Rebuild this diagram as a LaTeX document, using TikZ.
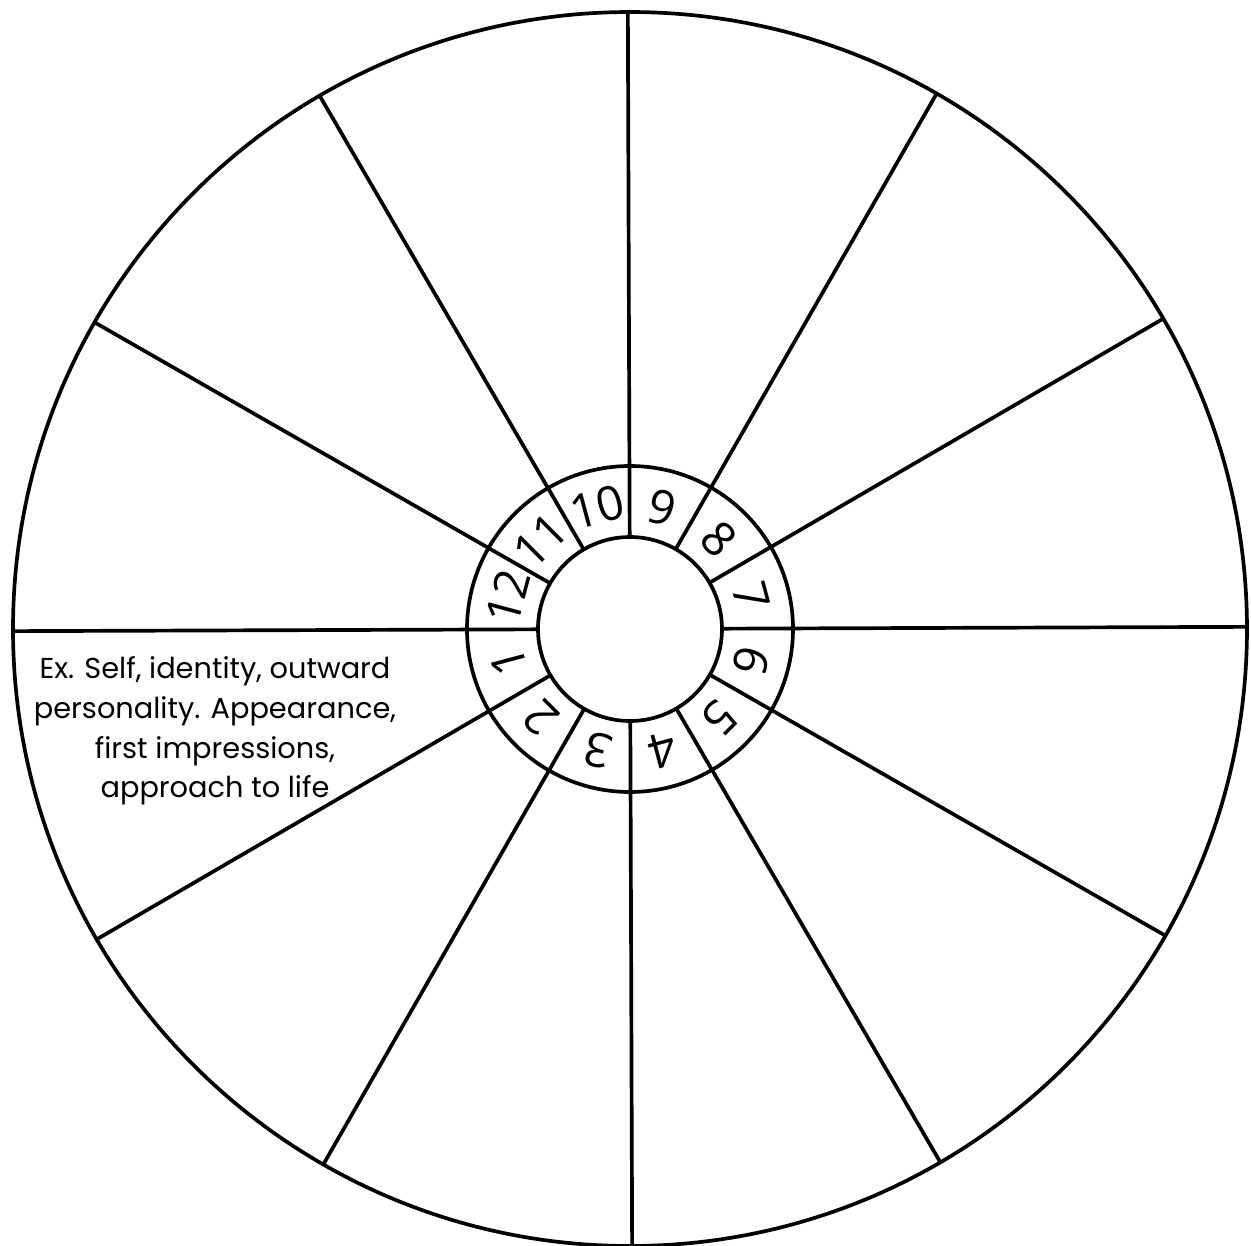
\documentclass[tikz,border=0pt]{standalone}
\usepackage{fontspec}
\setmainfont{Poppins}
\newfontfamily\numfont{Open Sans}
\usetikzlibrary{calc}
\tikzset{
  wheel/.style={line width=2.1pt},
  housenum/.style={font=\numfont\fontsize{27}{27}\selectfont, inner sep=0pt},
  housetext/.style={align=center, font=\fontsize{16.4}{22.5}\selectfont}
}

\begin{document}
\begin{tikzpicture}
  \useasboundingbox (-12.6,-12.32) rectangle (12.42,12.58);
  \coordinate (C) at (0,0);
  \begin{scope}[rotate=0.2]
    % outer wheel and central ring
    \draw[wheel] (C) circle (12.34);
    \draw[wheel] (C) circle (3.26);
    \draw[wheel] (C) circle (1.84);
    \foreach \a in {0,30,...,330}
      \draw[wheel] (\a:1.84) -- (\a:12.34);
    % house numbers
    \foreach \n [evaluate=\n as \ang using 165+30*\n] in {1,...,12}
      \node[housenum, rotate=\ang-90] (h\n) at (\ang:2.52) {\n};
  \end{scope}
  \node[housetext] (desc) at (-8.3,-2.04) {Ex. Self, identity, outward\\ personality. Appearance,\\ first impressions,\\ approach to life};
\end{tikzpicture}
\end{document}
